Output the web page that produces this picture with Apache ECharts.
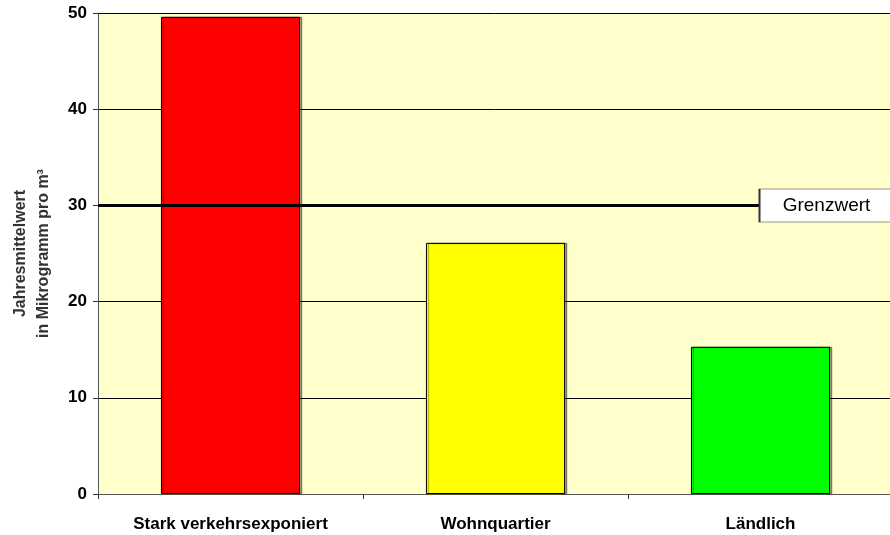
<!DOCTYPE html>
<html><head><meta charset="utf-8">
<script src="https://cdn.jsdelivr.net/npm/echarts@6/dist/echarts.min.js"></script>
<style>html,body{margin:0;padding:0;background:#fff}#c{width:890px;height:535px}</style>
</head><body><div id="c"></div>
<script>
const categories = ['Stark verkehrsexponiert', 'Wohnquartier', 'Ländlich'];
const values = [49.6, 26.1, 15.3];
const barColors = ['#FF0000', '#FFFF00', '#00FF00'];
const limitValue = 30;
const limitLabel = 'Grenzwert';
const yTicks = [0, 10, 20, 30, 40, 50];

const chart = echarts.init(document.getElementById('c'));
const font = 'Liberation Sans, Arial, sans-serif';
chart.setOption({
  animation: false,
  textStyle: { fontFamily: font },
  grid: { left: 98, top: 13, width: 795, height: 481, backgroundColor: '#FFFFCC', show: true, borderWidth: 0,
    containLabel: false, outerBoundsMode: 'none' },
  xAxis: {
    type: 'category', data: categories,
    axisLine: { lineStyle: { color: '#555', width: 1 } },
    axisTick: { show: true, length: 5, lineStyle: { color: '#333' } },
    axisLabel: { fontWeight: 'bold', fontSize: 17, color: '#000', margin: 22, fontFamily: font }
  },
  yAxis: {
    type: 'value', min: 0, max: 50, interval: 10,
    name: 'Jahresmittelwert\nin Mikrogramm pro m³',
    nameLocation: 'middle', nameRotate: 90, nameGap: 43,
    nameTextStyle: { fontSize: 16, fontWeight: 'bold', color: '#333', lineHeight: 23, fontFamily: font },
    axisLine: { show: true, lineStyle: { color: '#555', width: 1 } },
    axisTick: { show: true, length: 5, lineStyle: { color: '#333' } },
    axisLabel: { fontWeight: 'bold', fontSize: 17, color: '#000', margin: 11, fontFamily: font,
      formatter: v => yTicks.includes(v) ? String(v) : '' },
    splitLine: { show: true, lineStyle: { color: '#000', width: 1 } }
  },
  series: [{
    type: 'bar',
    barWidth: '52.5%',
    data: values.map((v, i) => ({ value: v, itemStyle: { color: barColors[i] } })),
    itemStyle: { borderColor: '#000', borderWidth: 1, shadowColor: 'rgba(0,0,0,0.35)', shadowOffsetX: 2, shadowOffsetY: 0, shadowBlur: 1 },
    markLine: {
      silent: true, symbol: 'none', z: 10,
      label: { show: false },
      lineStyle: { color: '#000', width: 3, type: 'solid' },
      data: [{ yAxis: limitValue }]
    },
    markPoint: {
      silent: true, z: 12,
      data: [{
        coord: [categories[2], limitValue],
        symbol: 'rect', symbolSize: [134, 33], symbolOffset: [66, 0],
        itemStyle: { color: '#fff', borderColor: '#333', borderWidth: 1 },
        label: { show: true, formatter: limitLabel, color: '#000', fontSize: 19, fontFamily: font }
      }]
    }
  }]
});
</script></body></html>
